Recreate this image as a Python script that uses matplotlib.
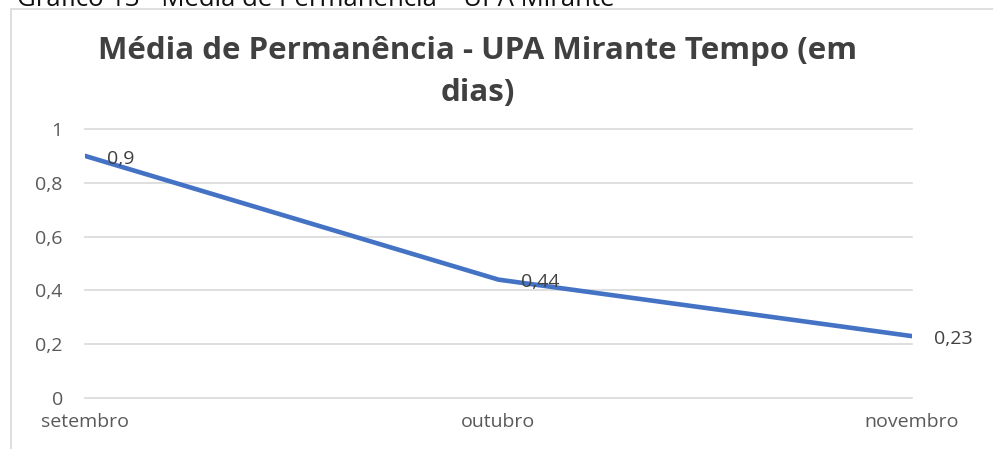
import matplotlib.pyplot as plt
from matplotlib.patches import Rectangle

meses = ['setembro', 'outubro', 'novembro']
media = [0.9, 0.44, 0.23]
rotulos = ['0,9', '0,44', '0,23']
yticks = [0, 0.2, 0.4, 0.6, 0.8, 1]
ytick_labels = ['0', '0,2', '0,4', '0,6', '0,8', '1']

plt.rcParams['font.family'] = ['Open Sans', 'DejaVu Sans']

fig = plt.figure(figsize=(9.93, 4.49), dpi=100)
ax = fig.add_axes([85/993, 1 - 398/449, (912 - 85)/993, (398 - 129)/449])

# moldura do grafico
fig.patches.append(Rectangle((11/993, -0.01), 1.0, 1 - 9/449 + 0.01, transform=fig.transFigure,
                             fill=False, edgecolor='#D9D9D9', linewidth=1.2))

# legenda do documento, cortada no topo como na imagem
fig.text(17/993, 1 - 5.5/449, 'Gráfico 13 - Média de Permanência – UPA Mirante', fontsize=18.5,
         color='#111111', va='baseline', ha='left')

x = list(range(len(meses)))
ax.plot(x, media, color='#4472C4', linewidth=3.3, solid_capstyle='round')
for xi, yi, r in zip(x, media, rotulos):
    ax.annotate(r, (xi, yi), xytext=(16, -2), textcoords='offset points', ha='left', va='center',
                fontsize=14, color='#404040')

ax.set_xlim(0, 2)
ax.set_ylim(0, 1)
ax.set_yticks(yticks)
ax.set_yticklabels(ytick_labels)
ax.set_xticks(x)
ax.set_xticklabels(meses)
ax.grid(axis='y', color='#D9D9D9', linewidth=1.2)
for gl in ax.get_ygridlines():
    gl.set_clip_on(False)
ax.set_axisbelow(True)
for s in ax.spines.values():
    s.set_visible(False)
ax.tick_params(length=0, labelsize=14, labelcolor='#595959')
ax.tick_params(axis='y', pad=16)
ax.tick_params(axis='x', pad=11)

fig.text(478/993, 1 - 72/449, 'Média de Permanência - UPA Mirante Tempo (em\ndias)', fontsize=22.5,
         fontweight='bold', color='#404040', ha='center', va='center', linespacing=1.48)

fig.savefig('out.png', dpi=100)
